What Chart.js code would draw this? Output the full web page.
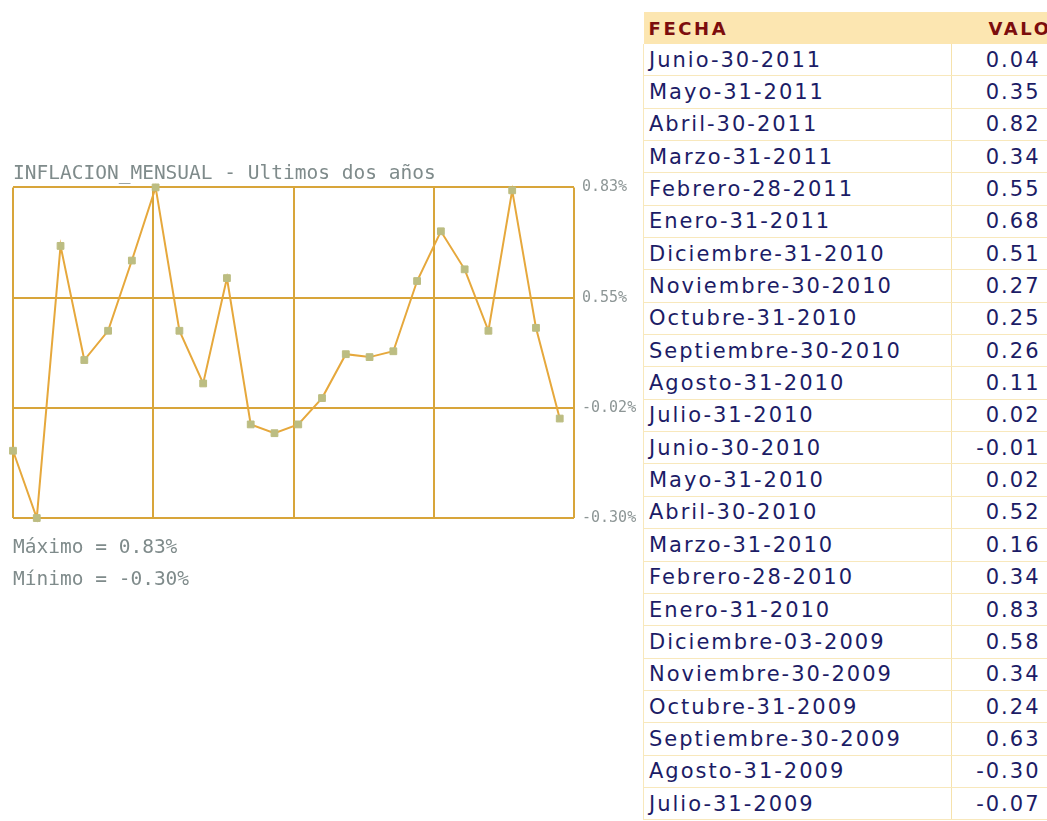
<!DOCTYPE html>
<html>
<head>
<meta charset="utf-8">
<script src="https://cdn.jsdelivr.net/npm/chart.js@4/dist/chart.umd.min.js"></script>
<style>
  html, body { margin: 0; padding: 0; background: #fff; overflow: hidden; width: 1047px; height: 821px; position: relative; }
  #chart { position: absolute; left: 0; top: 160px; }
  #tabla {
    position: absolute; left: 643px; top: 12px; width: 428px;
    border-collapse: collapse; table-layout: fixed;
    font-family: "DejaVu Sans", Verdana, sans-serif;
  }
  #tabla th {
    background: #fce6b1; color: #7c0d0d; font-size: 18px; font-weight: bold;
    letter-spacing: 2.6px; text-align: left; height: 32px; padding: 0; white-space: nowrap;
  }
  #tabla td {
    color: #1c1c66; font-size: 21px; letter-spacing: 2px; height: 31.35px; padding: 0;
    border-bottom: 1px solid #f8e8bc; white-space: nowrap;
  }
  #tabla td.f { padding-left: 5px; border-left: 1px solid #f8e8bc; border-right: 1px solid #f6e2ac; }
  #tabla td.v { text-align: right; padding-right: 31px; }
</style>
</head>
<body>
<canvas id="chart" width="643" height="446"></canvas>
<table id="tabla">
  <colgroup><col style="width:308px"><col style="width:120px"></colgroup>
  <thead><tr><th style="padding-left:5px">FECHA</th><th style="padding-left:37px">VALOR</th></tr></thead>
  <tbody id="tbody"></tbody>
</table>

<script>
// ── Data ─────────────────────────────────────────────────────
const fechas = [
  'Julio-31-2009','Agosto-31-2009','Septiembre-30-2009','Octubre-31-2009',
  'Noviembre-30-2009','Diciembre-03-2009','Enero-31-2010','Febrero-28-2010',
  'Marzo-31-2010','Abril-30-2010','Mayo-31-2010','Junio-30-2010',
  'Julio-31-2010','Agosto-31-2010','Septiembre-30-2010','Octubre-31-2010',
  'Noviembre-30-2010','Diciembre-31-2010','Enero-31-2011','Febrero-28-2011',
  'Marzo-31-2011','Abril-30-2011','Mayo-31-2011','Junio-30-2011'
];
const valores = [
  -0.07, -0.30, 0.63, 0.24, 0.34, 0.58, 0.83, 0.34,
   0.16,  0.52, 0.02, -0.01, 0.02, 0.11, 0.26, 0.25,
   0.27,  0.51, 0.68, 0.55, 0.34, 0.82, 0.35, 0.04
];
// labels as printed by the original graph (right side)
const yTickLabels = ['-0.30%', '-0.02%', '0.55%', '0.83%'];
const titulo = 'INFLACION_MENSUAL - Ultimos dos años';

const GOLD = '#d8a53a';
const LINE = '#e6a83c';
const MARK = '#bcbd82';
const GREY = '#7f8b8b';

// ── Table ────────────────────────────────────────────────────
document.getElementById('tbody').innerHTML = fechas.map((f, i) => `
  <tr><td class="f">${f}</td><td class="v">${valores[i].toFixed(2)}</td></tr>
`).reverse().join('');

// ── Chart ────────────────────────────────────────────────────
const yMin = Math.min(...valores);
const yMax = Math.max(...valores);
const xMax = 23.6;
const fmt  = v => v.toFixed(2) + '%';

const monoFont = { family: '"DejaVu Sans Mono", "Liberation Mono", monospace', size: 19.5, weight: 'normal' };

new Chart(document.getElementById('chart').getContext('2d'), {
  type: 'line',
  data: {
    datasets: [{
      data: valores.map((v, i) => ({ x: i, y: v })),
      borderColor: LINE,
      borderWidth: 2,
      tension: 0,
      pointStyle: 'rect',
      pointRadius: 4.8,
      pointBackgroundColor: MARK,
      pointBorderColor: MARK,
      pointBorderWidth: 1,
      clip: false,
    }]
  },
  options: {
    responsive: false,
    animation: false,
    layout: { padding: { left: 13, right: 0, top: 0, bottom: 10 } },
    plugins: {
      legend:  { display: false },
      tooltip: { enabled: false },
      title: {
        display: true, text: titulo, align: 'start', color: GREY,
        font: { ...monoFont, lineHeight: 1.2 },
        padding: { top: 2, bottom: 2 },
      },
      subtitle: {
        display: true, position: 'bottom', align: 'start', color: GREY,
        text: ['Máximo = ' + fmt(yMax), 'Mínimo = ' + fmt(yMin)],
        font: { ...monoFont, lineHeight: 1.64 },
        padding: { top: 14, bottom: 0 },
      },
    },
    scales: {
      x: {
        type: 'linear', min: 0, max: xMax,
        afterBuildTicks: s => { s.ticks = [0, 1, 2, 3, 4].map(k => ({ value: k * xMax / 4 })); },
        afterFit: s => { s.height = 0; },
        ticks:  { display: false },
        grid:   { color: GOLD, lineWidth: 2, drawTicks: false },
        border: { display: false },
      },
      y: {
        position: 'right', min: yMin, max: yMax,
        afterBuildTicks: s => { s.ticks = [0, 1, 2, 3].map(k => ({ value: yMin + k * (yMax - yMin) / 3 })); },
        afterFit: s => { s.width = 69; },
        ticks: {
          padding: 8, color: '#8d9696',
          font: { family: '"DejaVu Sans Mono", monospace', size: 15 },
          callback: (v, i) => yTickLabels[i],
        },
        grid:   { color: GOLD, lineWidth: 2, drawTicks: false },
        border: { display: false },
      }
    }
  }
});
</script>
</body>
</html>
